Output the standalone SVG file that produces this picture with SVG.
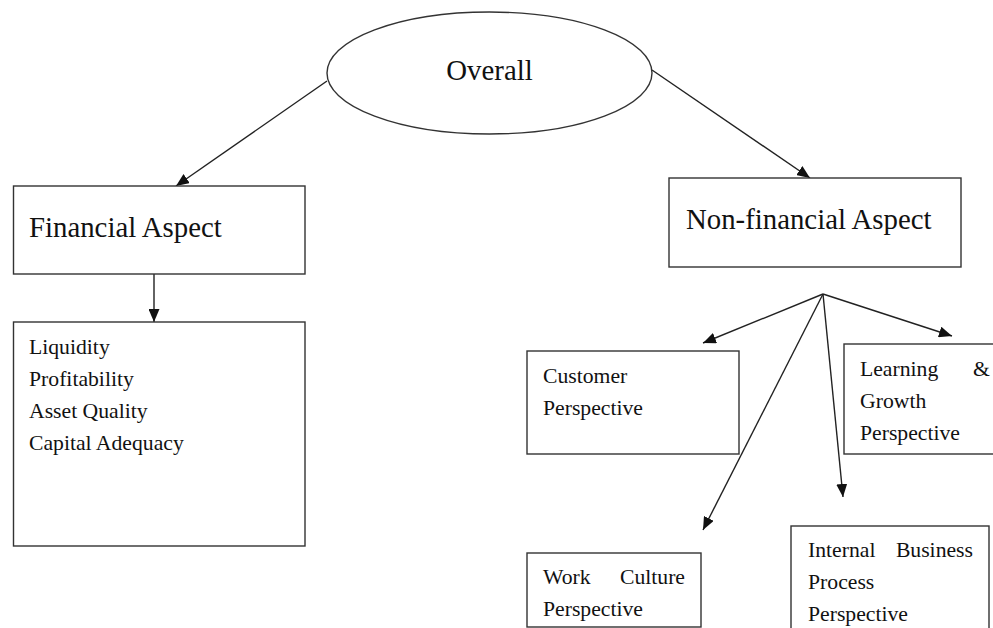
<svg xmlns="http://www.w3.org/2000/svg" width="993" height="628" viewBox="0 0 993 628">
<style>
.box{fill:#fff;stroke:#333;stroke-width:1.4}
.t{font-family:"Liberation Serif","Times New Roman",serif;fill:#111}
.big{font-size:28.8px}
.sm{font-size:21.7px}
.c{stroke:#222;stroke-width:1.4;fill:none;marker-end:url(#ah)}
</style>
<defs>
<marker id="ah" markerUnits="userSpaceOnUse" markerWidth="13" markerHeight="11" refX="13" refY="5.5" orient="auto">
<path d="M0,0 L13,5.5 L0,11 z" fill="#111"/>
</marker>
</defs>
<rect width="993" height="628" fill="#fff"/>
<g id="connectors">
<line class="c" x1="327" y1="81" x2="176" y2="186"/>
<line class="c" x1="652" y1="70" x2="810" y2="178"/>
<line class="c" x1="154" y1="274" x2="154" y2="322"/>
<line class="c" x1="823" y1="294" x2="703" y2="343"/>
<line class="c" x1="823" y1="294" x2="952" y2="336"/>
<line class="c" x1="823" y1="294" x2="703" y2="530"/>
<line class="c" x1="823" y1="294" x2="843" y2="497"/>
</g>
<g id="overall">
<ellipse cx="489.5" cy="73" rx="162.5" ry="61" fill="#fff" stroke="#333" stroke-width="1.4"/>
<text class="t big" x="489.5" y="80" text-anchor="middle">Overall</text>
</g>
<g id="financial">
<rect class="box" x="13.5" y="186" width="291.5" height="88"/>
<text class="t big" x="29" y="237">Financial Aspect</text>
</g>
<g id="nonfinancial">
<rect class="box" x="669" y="178" width="292" height="89"/>
<text class="t big" x="686" y="229">Non-financial Aspect</text>
</g>
<g id="financial-list">
<rect class="box" x="13.5" y="322" width="291.5" height="224"/>
<text class="t sm" x="29" y="354">Liquidity</text>
<text class="t sm" x="29" y="386">Profitability</text>
<text class="t sm" x="29" y="418">Asset Quality</text>
<text class="t sm" x="29" y="450">Capital Adequacy</text>
</g>
<g id="customer">
<rect class="box" x="527" y="351" width="212" height="103"/>
<text class="t sm" x="543" y="383">Customer</text>
<text class="t sm" x="543" y="415">Perspective</text>
</g>
<g id="learning">
<rect class="box" x="844" y="344" width="160" height="110"/>
<text class="t sm" x="860" y="376">Learning</text>
<text class="t sm" x="973" y="376">&amp;</text>
<text class="t sm" x="860" y="408">Growth</text>
<text class="t sm" x="860" y="440">Perspective</text>
</g>
<g id="workculture">
<rect class="box" x="527" y="553" width="174" height="74"/>
<text class="t sm" x="543" y="584">Work</text>
<text class="t sm" x="685" y="584" text-anchor="end">Culture</text>
<text class="t sm" x="543" y="616">Perspective</text>
</g>
<g id="internal">
<rect class="box" x="791" y="526" width="198" height="110"/>
<text class="t sm" x="808" y="557">Internal</text>
<text class="t sm" x="973" y="557" text-anchor="end">Business</text>
<text class="t sm" x="808" y="589">Process</text>
<text class="t sm" x="808" y="621">Perspective</text>
</g>
</svg>
